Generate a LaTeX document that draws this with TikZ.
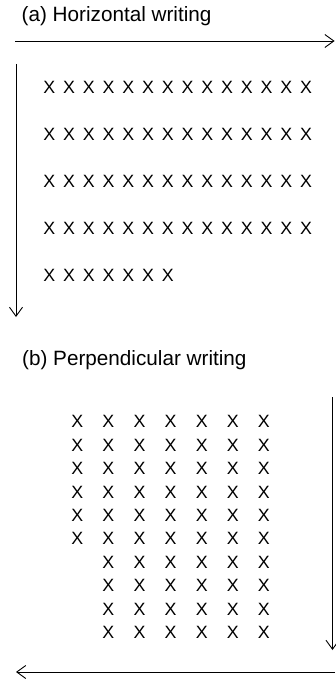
\documentclass[tikz,border=0pt]{standalone}
\usepackage{fontspec}
\setmainfont{Liberation Sans}
\usetikzlibrary{arrows.meta}

\begin{document}
\begin{tikzpicture}[x=1pt,y=-1pt,
  flow/.style={line width=0.9pt,
    -{Straight Barb[length=9pt,width=13pt,line width=0.9pt]}},
  caption/.style={anchor=base west, inner sep=0pt,
    font=\fontsize{20.7}{24}\selectfont},
  glyph/.style={inner sep=0pt, font=\fontsize{17.8}{20}\selectfont}]
\useasboundingbox (0,0) rectangle (335,682);

% (a) horizontal writing: lines run left to right, stacked downwards
\node[caption] (capA) at (21.5,22) {(a) Horizontal writing};
\coordinate (aH0) at (15,41);
\coordinate (aH1) at (334.6,41);
\coordinate (aV0) at (16,64);
\coordinate (aV1) at (16,317);
\draw[flow] (aH0) -- (aH1);
\draw[flow] (aV0) -- (aV1);
\foreach \r in {0,...,3}
  \foreach \c in {0,...,13}
    \node[glyph] (a-\r-\c) at ({49.3+19.75*\c},{87+47.2*\r}) {X};
\foreach \c in {0,...,6}
  \node[glyph] (a-4-\c) at ({49.3+19.75*\c},{87+47.2*4}) {X};

% (b) perpendicular writing: columns run top to bottom, stacked leftwards
\node[caption] (capB) at (22,365) {(b) Perpendicular writing};
\coordinate (bV0) at (332.5,397);
\coordinate (bV1) at (332.5,650);
\coordinate (bH0) at (335,672);
\coordinate (bH1) at (16,672);
\draw[flow] (bV0) -- (bV1);
\draw[flow] (bH0) -- (bH1);
\foreach \k in {0,...,5}
  \node[glyph] (b-0-\k) at (77.3,{421.7+23.4*\k}) {X};
\foreach \j in {1,...,6}
  \foreach \k in {0,...,9}
    \node[glyph] (b-\j-\k) at ({77.3+31.1*\j},{421.7+23.4*\k}) {X};
\end{tikzpicture}
\end{document}
